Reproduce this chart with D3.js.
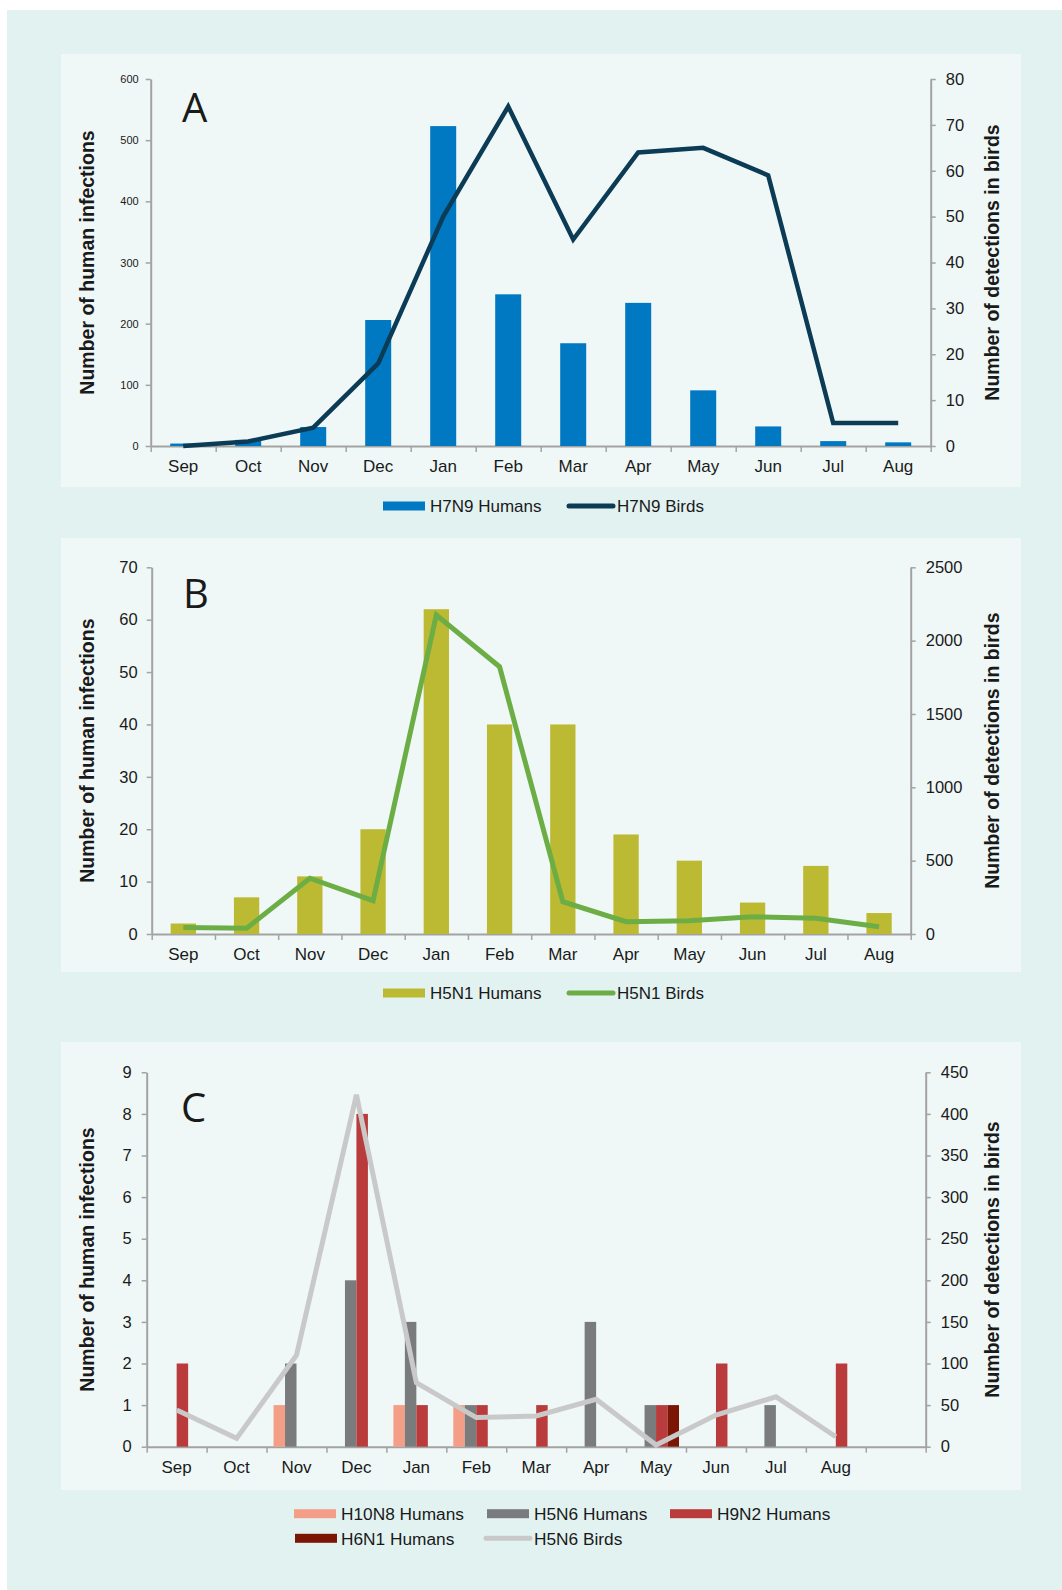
<!DOCTYPE html>
<html>
<head>
<meta charset="utf-8">
<script src="https://cdn.jsdelivr.net/npm/d3@7"></script>
<style>
  body { margin: 0; background: #fff; }
  text { font-family: "Liberation Sans", Arial, sans-serif; fill: #1a1a1a; }
</style>
</head>
<body>
<script>
// data
var months = ["Sep", "Oct", "Nov", "Dec", "Jan", "Feb", "Mar", "Apr", "May", "Jun", "Jul", "Aug"];

var h7n9Humans = [4, 10, 31, 206, 523, 248, 168, 234, 91, 32, 8, 6];
var h7n9Birds  = [0, 1, 4, 18, 50, 74, 45, 64, 65, 59, 5, 5];

var h5n1Humans = [2, 7, 11, 20, 62, 40, 40, 19, 14, 6, 13, 4];
var h5n1Birds  = [45, 39, 380, 227, 2175, 1822, 220, 84, 91, 118, 107, 50];

var h10n8Humans = [0, 0, 1, 0, 1, 1, 0, 0, 0, 0, 0, 0];
var h5n6Humans  = [0, 0, 2, 4, 3, 1, 0, 3, 1, 0, 1, 0];
var h9n2Humans  = [2, 0, 0, 8, 1, 1, 1, 0, 1, 2, 0, 2];
var h6n1Humans  = [0, 0, 0, 0, 0, 0, 0, 0, 1, 0, 0, 0];
var h5n6Birds   = [44, 10, 110, 423, 77, 35, 37, 57, 2, 38, 60, 12];

var W = 1062, H = 1590;

var svg = d3.select('body').append('svg')
            .attr('width', W)
            .attr('height', H);

// backgrounds
svg.append('rect').attr('x', 7).attr('y', 10).attr('width', W - 7).attr('height', H - 10).attr('fill', '#e2f2f1');
[[54, 487], [538, 972], [1042, 1490]].forEach(function (p) {
  svg.append('rect').attr('x', 61).attr('y', p[0]).attr('width', 960).attr('height', p[1] - p[0]).attr('fill', '#eff8f7');
});

var axisColor = '#a3a3a3';

function styleAxis(g, fontSize) {
  g.attr('font-family', null);
  g.select('.domain').attr('stroke', axisColor).attr('stroke-width', 2);
  g.selectAll('.tick line').attr('stroke', axisColor).attr('stroke-width', 1.5);
  g.selectAll('.tick text')
    .style('font-size', fontSize + 'px')
    .attr('fill', '#1a1a1a');
}

function panel(o) {
  var g = svg.append('g');
  var n = o.n;
  var x = d3.scaleBand().domain(d3.range(n)).range([o.x0, o.x1]);
  var xEdge = d3.scaleLinear().domain([0, n]).range([o.x0, o.x1]);
  var yL = d3.scaleLinear().domain([0, o.leftMax]).range([o.yBot, o.yTop]);
  var yR = d3.scaleLinear().domain([0, o.rightMax]).range([o.yBot, o.yTop]);

  // left axis
  var gl = g.append('g').attr('transform', 'translate(' + o.x0 + ',0)')
    .call(d3.axisLeft(yL).tickValues(d3.range(0, o.leftMax + o.leftStep / 2, o.leftStep))
      .tickFormat(d3.format('d')).tickSize(5).tickSizeOuter(0).tickPadding(o.leftPad));
  styleAxis(gl, o.leftFont);

  // right axis
  var gr = g.append('g').attr('transform', 'translate(' + o.x1 + ',0)')
    .call(d3.axisRight(yR).tickValues(d3.range(0, o.rightMax + o.rightStep / 2, o.rightStep))
      .tickFormat(d3.format('d')).tickSize(5).tickSizeOuter(0).tickPadding(10));
  styleAxis(gr, 16.5);

  // x axis, ticks on the band edges
  var gx = g.append('g').attr('transform', 'translate(0,' + o.yBot + ')')
    .call(d3.axisBottom(xEdge).tickValues(d3.range(0, n + 1))
      .tickFormat('').tickSize(6).tickSizeOuter(0));
  styleAxis(gx, 16.5);

  g.append('g').selectAll('text')
    .data(months)
    .enter()
    .append('text')
    .attr('x', function (d, i) { return x(i) + x.bandwidth() / 2; })
    .attr('y', o.yBot + 26)
    .attr('text-anchor', 'middle')
    .style('font-size', '17px')
    .text(function (d) { return d; });

  // bars
  if (o.groups) {
    var inner = d3.scaleBand().domain(d3.range(o.groups.length)).range([0, x.bandwidth()])
                  .paddingInner(0).paddingOuter(0.61);
    o.groups.forEach(function (s, si) {
      g.append('g').selectAll('rect')
        .data(s.values.map(function (v, i) { return {v: v, i: i}; }).filter(function (d) { return d.v > 0; }))
        .enter()
        .append('rect')
        .attr('x', function (d) { return x(d.i) + inner(si); })
        .attr('width', inner.bandwidth())
        .attr('y', function (d) { return yL(d.v); })
        .attr('height', function (d) { return yL(0) - yL(d.v); })
        .attr('fill', s.color);
    });
  } else {
    var bw = x.bandwidth() * 0.4;
    g.append('g').selectAll('rect')
      .data(o.bars)
      .enter()
      .append('rect')
      .attr('x', function (d, i) { return x(i) + (x.bandwidth() - bw) / 2; })
      .attr('width', bw)
      .attr('y', function (d) { return yL(d); })
      .attr('height', function (d) { return yL(0) - yL(d); })
      .attr('fill', o.barColor);
  }

  // line
  var line = d3.line()
    .x(function (d, i) { return x(i) + x.bandwidth() / 2; })
    .y(function (d) { return yR(d); });
  g.append('path')
    .datum(o.line)
    .attr('d', line)
    .attr('fill', 'none')
    .attr('stroke', o.lineColor)
    .attr('stroke-width', o.lineWidth)
    .attr('stroke-linejoin', 'miter');

  // axis titles
  var midY = (o.yTop + o.yBot) / 2;
  g.append('text')
    .attr('transform', 'translate(94,' + midY + ') rotate(-90)')
    .attr('text-anchor', 'middle')
    .style('font-size', '19.5px')
    .style('font-weight', 'bold')
    .text('Number of human infections');
  g.append('text')
    .attr('transform', 'translate(999,' + midY + ') rotate(-90)')
    .attr('text-anchor', 'middle')
    .style('font-size', '19.5px')
    .style('font-weight', 'bold')
    .text('Number of detections in birds');

  // panel letter
  g.append('text')
    .attr('x', o.letterX)
    .attr('y', o.letterY)
    .style('font-family', '"Open Sans", sans-serif')
    .style('font-size', '40px')
    .text(o.letter);

  // legend
  var lg = g.append('g');
  o.legend.forEach(function (it) {
    if (it.type === 'rect') {
      lg.append('rect').attr('x', it.x).attr('y', it.y - 4.5).attr('width', it.sw).attr('height', 9).attr('fill', it.color);
    } else {
      lg.append('line').attr('x1', it.x + 2).attr('x2', it.x + it.sw - 2).attr('y1', it.y).attr('y2', it.y)
        .attr('stroke', it.color).attr('stroke-width', it.w).attr('stroke-linecap', 'round');
    }
    lg.append('text')
      .attr('x', it.x + it.sw + it.gap)
      .attr('y', it.y)
      .attr('dy', '0.36em')
      .style('font-size', o.legendFont + 'px')
      .text(it.label);
  });
}

panel({
  n: 12, x0: 150.7, x1: 930.7, yTop: 79, yBot: 446,
  leftMax: 600, leftStep: 100, leftFont: 11, leftPad: 7,
  rightMax: 80, rightStep: 10,
  bars: h7n9Humans, barColor: '#0079c2',
  line: h7n9Birds, lineColor: '#0c3b55', lineWidth: 4.5,
  letter: 'A', letterX: 182, letterY: 122,
  legendFont: 17,
  legend: [
    {label: 'H7N9 Humans', type: 'rect', color: '#0079c2', x: 383, y: 506, sw: 42, gap: 5},
    {label: 'H7N9 Birds', type: 'line', color: '#0c3b55', w: 5, x: 567, y: 506, sw: 48, gap: 2}
  ]
});

panel({
  n: 12, x0: 151.7, x1: 910.7, yTop: 567.3, yBot: 934,
  leftMax: 70, leftStep: 10, leftFont: 16.5, leftPad: 9,
  rightMax: 2500, rightStep: 500,
  bars: h5n1Humans, barColor: '#bcb932',
  line: h5n1Birds, lineColor: '#6cae45', lineWidth: 5,
  letter: 'B', letterX: 183, letterY: 608,
  legendFont: 17,
  legend: [
    {label: 'H5N1 Humans', type: 'rect', color: '#bcb932', x: 383, y: 993, sw: 42, gap: 5},
    {label: 'H5N1 Birds', type: 'line', color: '#6cae45', w: 5, x: 567, y: 993, sw: 48, gap: 2}
  ]
});

panel({
  n: 13, x0: 146.7, x1: 925.7, yTop: 1072.3, yBot: 1446.7,
  leftMax: 9, leftStep: 1, leftFont: 16.5, leftPad: 10,
  rightMax: 450, rightStep: 50,
  groups: [
    {values: h10n8Humans, color: '#f59e87'},
    {values: h5n6Humans, color: '#797b7c'},
    {values: h9n2Humans, color: '#b93b3c'},
    {values: h6n1Humans, color: '#7a1603'}
  ],
  line: h5n6Birds, lineColor: '#c9c9c9', lineWidth: 5,
  letter: 'C', letterX: 181, letterY: 1122,
  legendFont: 17.3,
  legend: [
    {label: 'H10N8 Humans', type: 'rect', color: '#f59e87', x: 294, y: 1513.7, sw: 42, gap: 5},
    {label: 'H5N6 Humans', type: 'rect', color: '#797b7c', x: 487, y: 1513.7, sw: 42, gap: 5},
    {label: 'H9N2 Humans', type: 'rect', color: '#b93b3c', x: 670, y: 1513.7, sw: 42, gap: 5},
    {label: 'H6N1 Humans', type: 'rect', color: '#7a1603', x: 295, y: 1538.3, sw: 42, gap: 4},
    {label: 'H5N6 Birds', type: 'line', color: '#c9c9c9', w: 5, x: 484, y: 1538.3, sw: 48, gap: 2}
  ]
});
</script>
</body>
</html>
